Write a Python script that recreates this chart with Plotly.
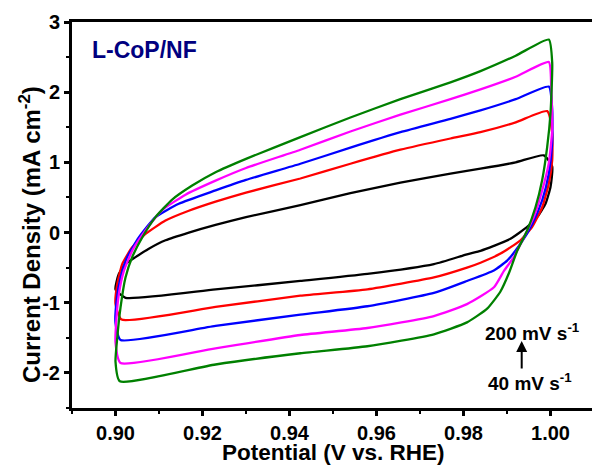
import plotly.graph_objects as go

# Scan rates (mV/s) and colours of the five CV loops
scan_rates = [40, 80, 120, 160, 200]
colors = ["#000000", "#ff0000", "#0000ff", "#ff00ff", "#008000"]

# Potential (V vs. RHE) and current density (mA cm-2)
black_v = [0.9023, 0.9000, 0.90076, 0.9023, 0.9046, 0.90766, 0.9115, 0.91686, 0.9230, 0.9300, 0.9425, 0.9540, 0.9655, 0.9770, 0.9839, 0.9920, 0.99847,
           1.00039, 1.0000, 0.99885, 0.99694, 0.99464, 0.9908, 0.98697, 0.98391, 0.9808, 0.9732, 0.9579, 0.9425, 0.9230, 0.9023]
black_j = [-0.93, -0.81, -0.59, -0.45, -0.35, -0.23, -0.11, 0.00, 0.11, 0.22, 0.39, 0.56, 0.71, 0.84, 0.91, 1.00, 1.10,
           0.94, 0.65, 0.41, 0.22, 0.08, -0.09, -0.19, -0.26, -0.31, -0.45, -0.59, -0.69, -0.81, -0.93]

red_v = [0.9014, 0.9000, 0.90039, 0.90154, 0.90384, 0.9069, 0.91149, 0.91685, 0.9230, 0.9300, 0.9425, 0.9540, 0.9655, 0.9770, 0.9839, 0.9920, 0.99924,
         1.00039, 1.00039, 0.99961, 0.99809, 0.99579, 0.9931, 0.98851, 0.98391, 0.9808, 0.9732, 0.9579, 0.9425, 0.9230, 0.9014]
red_j = [-1.24, -1.02, -0.74, -0.45, -0.21, -0.02, 0.17, 0.31, 0.44, 0.57, 0.77, 0.98, 1.18, 1.34, 1.43, 1.57, 1.73,
         1.42, 1.03, 0.70, 0.36, 0.08, -0.11, -0.30, -0.43, -0.50, -0.64, -0.81, -0.90, -1.06, -1.24]

blue_v = [0.90115, 0.9000, 0.90023, 0.90115, 0.90269, 0.90536, 0.9092, 0.91455, 0.9230, 0.9300, 0.9425, 0.9540, 0.9655, 0.9770, 0.9839, 0.9920, 0.99961,
          1.00039, 1.00039, 0.99961, 0.99809, 0.99579, 0.9931, 0.99004, 0.98697, 0.9808, 0.9732, 0.9579, 0.9425, 0.9230, 0.90115]
blue_j = [-1.53, -1.29, -0.98, -0.64, -0.35, -0.07, 0.22, 0.41, 0.60, 0.75, 0.98, 1.21, 1.43, 1.62, 1.74, 1.90, 2.08,
          1.75, 1.27, 0.84, 0.46, 0.12, -0.16, -0.40, -0.54, -0.69, -0.86, -1.05, -1.17, -1.33, -1.53]

magenta_v = [0.90115, 0.9000, 0.90023, 0.90076, 0.90191, 0.90384, 0.9069, 0.91074, 0.91609, 0.9230, 0.9300, 0.9425, 0.9540, 0.9655, 0.9770, 0.9839, 0.9920, 0.99961,
             1.00016, 1.00039, 0.99961, 0.99809, 0.99616, 0.99386, 0.99156, 0.98926, 0.9870, 0.9808, 0.9732, 0.9579, 0.9425, 0.9230, 0.90115]
magenta_j = [-1.86, -1.57, -1.21, -0.88, -0.55, -0.26, 0.03, 0.32, 0.54, 0.74, 0.92, 1.18, 1.44, 1.68, 1.90, 2.04, 2.22, 2.43,
             2.09, 1.46, 0.99, 0.60, 0.22, -0.07, -0.35, -0.55, -0.78, -1.02, -1.19, -1.36, -1.46, -1.65, -1.86]

green_v = [0.9010, 0.9000, 0.9004, 0.90115, 0.9023, 0.90384, 0.90614, 0.9092, 0.91303, 0.91763, 0.9230, 0.9300, 0.9425, 0.9540, 0.9655, 0.9770, 0.9839, 0.9920, 0.99961,
           1.00039, 1.0000, 0.99924, 0.99809, 0.99655, 0.99464, 0.99234, 0.9905, 0.9885, 0.9855, 0.9808, 0.9732, 0.9579, 0.9425, 0.9230, 0.9010]
green_j = [-2.12, -1.84, -1.50, -1.07, -0.64, -0.35, -0.07, 0.22, 0.47, 0.67, 0.86, 1.05, 1.36, 1.64, 1.90, 2.14, 2.30, 2.52, 2.75,
           2.42, 1.70, 1.22, 0.75, 0.36, 0.03, -0.26, -0.57, -0.84, -1.08, -1.28, -1.45, -1.62, -1.72, -1.88, -2.12]

x_ticks = [0.90, 0.92, 0.94, 0.96, 0.98, 1.00]
x_tick_labels = ["0.90", "0.92", "0.94", "0.96", "0.98", "1.00"]
y_ticks = [-2, -1, 0, 1, 2, 3]
y_tick_labels = ["-2", "-1", "0", "1", "2", "3"]

curves = [(black_v, black_j), (red_v, red_j), (blue_v, blue_j), (magenta_v, magenta_j), (green_v, green_j)]

FONT = "Liberation Sans, Arial, sans-serif"

fig = go.Figure()
for (v, j), c, r in zip(curves, colors, scan_rates):
    fig.add_trace(go.Scatter(x=v, y=j, mode="lines", name=f"{r} mV/s",
                             line=dict(color=c, width=2.3, shape="spline", smoothing=0.5)))

W, H = 592, 466
L, R, T, B = 72, 0, 22, 58
pw, ph = W - L - R, H - T - B

def px(x):
    return (x - L) / pw

def py(y):
    return (H - B - y) / ph

fig.update_layout(
    width=W, height=H,
    margin=dict(l=L, r=R, t=T, b=B),
    paper_bgcolor="white", plot_bgcolor="white",
    showlegend=False,
    font=dict(family=FONT, color="black"),
    xaxis=dict(range=[0.89, 0.89 + pw / 4350.0], tickvals=x_ticks, ticktext=x_tick_labels,
               ticks="outside", ticklen=5, tickwidth=2.5, tickcolor="black",
               showline=True, linewidth=3, linecolor="black", mirror=True,
               showgrid=False, zeroline=False,
               minor=dict(dtick=0.01, tick0=0.90, ticks="outside", ticklen=3, tickwidth=2, tickcolor="black"),
               tickfont=dict(size=20, family=FONT, weight="bold")),
    yaxis=dict(range=[-2.5, 3], tickvals=y_ticks, ticktext=y_tick_labels,
               ticks="outside", ticklen=5, tickwidth=2.5, tickcolor="black",
               showline=True, linewidth=3, linecolor="black", mirror=False,
               showgrid=False, zeroline=False,
               minor=dict(dtick=0.5, tick0=0, ticks="outside", ticklen=3, tickwidth=2, tickcolor="black"),
               tickfont=dict(size=20, family=FONT, weight="bold")),
)

ann = []
ann.append(dict(text="<b>Potential (V vs. RHE)</b>", xref="paper", yref="paper",
                x=px(333), y=py(452), showarrow=False, xanchor="center", yanchor="middle",
                font=dict(size=22.5, family=FONT, color="black")))
ann.append(dict(text="<b>Current Density (mA cm<sup>-2</sup>)</b>", xref="paper", yref="paper",
                x=px(30), y=py(235), showarrow=False, xanchor="center", yanchor="middle",
                textangle=-90, font=dict(size=24, family=FONT, color="black")))
ann.append(dict(text="<b>L-CoP/NF</b>", xref="paper", yref="paper",
                x=px(90), y=py(50), showarrow=False, xanchor="left", yanchor="middle",
                font=dict(size=23, family=FONT, color="#000080")))
ann.append(dict(text="<b>200 mV s<sup>-1</sup></b>", xref="paper", yref="paper",
                x=px(532), y=py(332), showarrow=False, xanchor="center", yanchor="middle",
                font=dict(size=19, family=FONT, color="black")))
ann.append(dict(text="<b>40 mV s<sup>-1</sup></b>", xref="paper", yref="paper",
                x=px(530), y=py(382), showarrow=False, xanchor="center", yanchor="middle",
                font=dict(size=19, family=FONT, color="black")))
ann.append(dict(text="", xref="paper", yref="paper", x=px(521.7), y=py(341),
                ax=0, ay=29, showarrow=True, arrowhead=2, arrowsize=1.1, arrowwidth=2,
                arrowcolor="black"))
fig.update_layout(annotations=ann)

fig.write_html("out.html", config={"displayModeBar": False},
               post_script="document.body.style.margin='0px';document.body.style.padding='0px';")
